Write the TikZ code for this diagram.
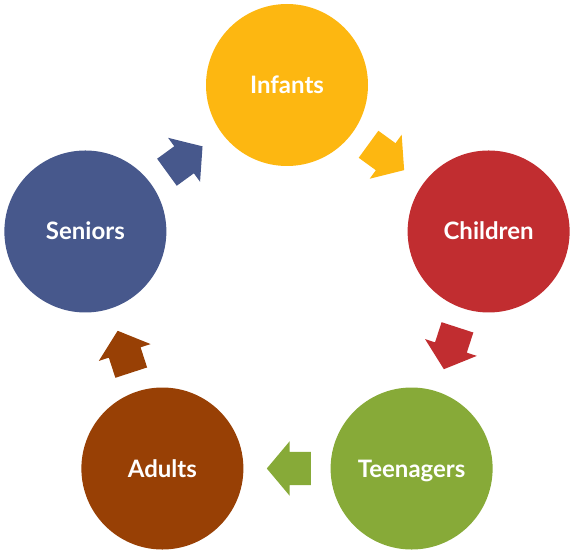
\documentclass[tikz,border=0pt]{standalone}
\usepackage{fontspec}
\setmainfont{Lato}
\usepackage{tikz}
\usetikzlibrary{shapes.arrows, calc}
\definecolor{infantcol}{RGB}{253,183,17}
\definecolor{childcol}{RGB}{193,45,48}
\definecolor{teencol}{RGB}{135,170,56}
\definecolor{adultcol}{RGB}{152,64,5}
\definecolor{seniorcol}{RGB}{71,88,140}
\begin{document}
\begin{tikzpicture}[x=1pt, y=1pt]
\tikzstyle{agecircle}=[circle, minimum size=162pt, inner sep=0pt, text=white, font=\fontsize{24}{29}\selectfont\bfseries, text height=17pt, text depth=0pt]
\tikzstyle{steparrow}=[single arrow, minimum height=44pt, inner xsep=0pt, inner ysep=16.5pt, single arrow head extend=10.5pt, single arrow tip angle=100, single arrow head indent=0pt, anchor=tail]

\useasboundingbox (0,0) rectangle (574,555);

\begin{scope}[shift={(287,258)}]
\node (infants) at (90:212) [agecircle, fill=infantcol] {Infants};
\node (children) at (18:212) [agecircle, fill=childcol] {Children};
\node (teens) at (-54:212) [agecircle, fill=teencol] {Teenagers};
\node (adults) at (-126:212) [agecircle, fill=adultcol] {Adults};
\node (seniors) at (162:212) [agecircle, fill=seniorcol] {Seniors};

% arrows: tail placed 24pt behind the midpoint between two circles
\node (a1) at ($(54:171.5)+(144:24)$) [steparrow, fill=infantcol, rotate=-36] {};
\node (a2) at ($(-18:171.5)+(72:24)$) [steparrow, fill=childcol, rotate=-108] {};
\node (a3) at ($(-90:171.5)+(0:24)$) [steparrow, fill=teencol, rotate=180] {};
\node (a4) at ($(-162:171.5)+(-72:24)$) [steparrow, fill=adultcol, rotate=108] {};
\node (a5) at ($(126:171.5)+(-144:24)$) [steparrow, fill=seniorcol, rotate=36] {};
\end{scope}
\end{tikzpicture}
\end{document}
